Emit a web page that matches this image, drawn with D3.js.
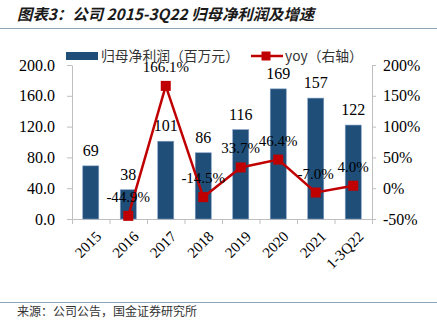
<!DOCTYPE html>
<html><head><meta charset="utf-8">
<script src="https://cdn.jsdelivr.net/npm/d3@7/dist/d3.min.js"></script>
<style>
html,body{margin:0;padding:0;background:#fff;}
svg{display:block;}
</style></head>
<body>
<script>
const categories = ["2015","2016","2017","2018","2019","2020","2021","1-3Q22"];
const profit = [69, 38, 101, 86, 116, 169, 157, 122];
const yoy = [null, -44.9, 166.1, -14.5, 33.7, 46.4, -7.0, 4.0];
const leftTicks = [0, 40, 80, 120, 160, 200];
const rightTicks = [-50, 0, 50, 100, 150, 200];
const title = "图表3：公司 2015-3Q22 归母净利润及增速";
const source = "来源：公司公告，国金证券研究所";
const legendBar = "归母净利润（百万元）";
const legendLine = "yoy（右轴）";

const W = 437, H = 325;
const L = 72, R = 372, T = 65, B = 219;
const serif = "'Liberation Serif','Times New Roman',serif";
const cjk = "'Noto Sans CJK SC','Noto Sans',sans-serif";
const barColor = "#1f4e79", lineColor = "#c00000", axisColor = "#bfbfbf";

const svg = d3.select("body").append("svg").attr("width", W).attr("height", H);

// title and rules
svg.append("text").attr("x", 17).attr("y", 20).text(title)
  .attr("font-family", cjk).attr("font-size", 15.4).attr("font-style", "italic")
  .attr("font-weight", 700).attr("fill", "#1a1a1a");
svg.append("line").attr("x1", 0).attr("x2", W).attr("y1", 28.5).attr("y2", 28.5)
  .attr("stroke", "#8ea6b8").attr("stroke-width", 1.2);
svg.append("line").attr("x1", 0).attr("x2", W).attr("y1", 302.5).attr("y2", 302.5)
  .attr("stroke", "#8ea6b8").attr("stroke-width", 1.2);
svg.append("text").attr("x", 17).attr("y", 316).text(source)
  .attr("font-family", cjk).attr("font-size", 12).attr("fill", "#333");

const x = d3.scaleBand().domain(categories).range([L, R]).paddingInner(0.573).paddingOuter(0.287);
const xi = d3.scaleLinear().domain([0, categories.length]).range([L, R]);
const yL = d3.scaleLinear().domain([0, 200]).range([B, T]);
const yR = d3.scaleLinear().domain([-50, 200]).range([B, T]);
const cx = c => x(c) + x.bandwidth() / 2;

function styleAxis(g) {
  g.selectAll("path,line").attr("stroke", axisColor);
  g.selectAll("text").attr("font-family", serif).attr("font-size", 16).attr("fill", "#000");
}

// left axis
svg.append("g").attr("transform", `translate(${L},0)`)
  .call(d3.axisLeft(yL).tickValues(leftTicks).tickFormat(d3.format(".1f")).tickSize(5).tickSizeOuter(0).tickPadding(12))
  .call(styleAxis);
// right axis
svg.append("g").attr("transform", `translate(${R},0)`)
  .call(d3.axisRight(yR).tickValues(rightTicks).tickFormat(d => d + "%").tickSize(4).tickSizeOuter(0).tickPadding(7))
  .call(styleAxis);
// bottom axis ticks at boundaries
svg.append("g").attr("transform", `translate(0,${B})`)
  .call(d3.axisBottom(xi).tickValues(d3.range(0, categories.length + 1)).tickFormat("").tickSize(5).tickSizeOuter(0))
  .call(styleAxis);
// category labels rotated
svg.append("g").selectAll("text").data(categories).join("text")
  .attr("transform", d => `translate(${cx(d) + 4},${B + 11}) rotate(-45)`)
  .attr("text-anchor", "end").attr("dy", "0.7em")
  .attr("font-family", serif).attr("font-size", 15).attr("fill", "#000")
  .text(d => d);

// bars
svg.append("g").selectAll("rect").data(categories).join("rect")
  .attr("x", d => x(d)).attr("width", x.bandwidth())
  .attr("y", (d, i) => yL(profit[i])).attr("height", (d, i) => B - yL(profit[i]))
  .attr("fill", barColor).attr("stroke", "#7f9cc0").attr("stroke-width", 0.6);
svg.append("g").selectAll("text").data(categories).join("text")
  .attr("x", d => cx(d)).attr("y", (d, i) => yL(profit[i]) - 10)
  .attr("text-anchor", "middle").attr("font-family", serif).attr("font-size", 16).attr("fill", "#000")
  .text((d, i) => profit[i]);

// line
const pts = categories.map((c, i) => ({c, v: yoy[i]}));
svg.append("path").datum(pts)
  .attr("d", d3.line().defined(d => d.v != null).x(d => cx(d.c)).y(d => yR(d.v)))
  .attr("fill", "none").attr("stroke", lineColor).attr("stroke-width", 2.5);
const valid = pts.filter(d => d.v != null);
svg.append("g").selectAll("rect").data(valid).join("rect")
  .attr("x", d => cx(d.c) - 5).attr("y", d => yR(d.v) - 5).attr("width", 10).attr("height", 10)
  .attr("fill", lineColor);
svg.append("g").selectAll("text").data(valid).join("text")
  .attr("x", d => cx(d.c)).attr("y", d => yR(d.v) - 14)
  .attr("text-anchor", "middle").attr("font-family", serif).attr("font-size", 15).attr("fill", "#000")
  .text(d => d.v.toFixed(1) + "%");

// legend
const lg = svg.append("g");
lg.append("rect").attr("x", 66).attr("y", 52).attr("width", 32).attr("height", 8).attr("fill", barColor);
lg.append("text").attr("x", 101).attr("y", 61).text(legendBar)
  .attr("font-family", cjk).attr("font-size", 13.8).attr("fill", "#333");
lg.append("line").attr("x1", 251).attr("x2", 283).attr("y1", 56).attr("y2", 56)
  .attr("stroke", lineColor).attr("stroke-width", 2.5);
lg.append("rect").attr("x", 261.5).attr("y", 51.5).attr("width", 9).attr("height", 9).attr("fill", lineColor);
lg.append("text").attr("x", 285).attr("y", 61).text(legendLine)
  .attr("font-family", cjk).attr("font-size", 13.8).attr("fill", "#333");
</script>
</body></html>
